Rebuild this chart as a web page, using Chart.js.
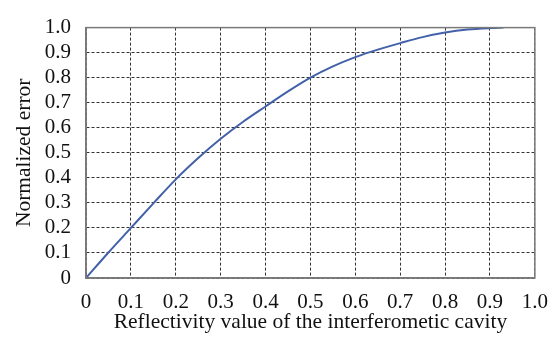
<!DOCTYPE html>
<html>
<head>
<meta charset="utf-8">
<script src="https://cdn.jsdelivr.net/npm/chart.js@4"></script>
<style>
  html, body { margin: 0; padding: 0; background: #fff; }
</style>
</head>
<body>
<canvas id="chart" width="560" height="337"></canvas>
<script>
// values
const reflectivity = [0, 0.05, 0.1, 0.15, 0.2, 0.25, 0.3, 0.35, 0.4, 0.45, 0.5,
    0.55, 0.6, 0.65, 0.7, 0.75, 0.8, 0.85, 0.9, 0.93];
const normalizedError = [0, 0.102, 0.2, 0.298, 0.394, 0.479, 0.556, 0.624, 0.685, 0.745, 0.8,
    0.845, 0.882, 0.912, 0.938, 0.962, 0.98, 0.992, 0.998, 1.0];
const axisMin = 0;
const axisMax = 1.0;
const axisStep = 0.1;

const serif = '"Liberation Serif", "Times New Roman", serif';

function tickLabel(v) {
    return Math.abs(v) < 1e-9 ? '0' : v.toFixed(1);
}

// frame round the plot area (top and right sides included)
const frame = {
    id: 'frame',
    afterDraw(chart) {
        const a = chart.chartArea;
        const ctx = chart.ctx;
        ctx.save();
        ctx.strokeStyle = '#7a7a7a';
        ctx.lineWidth = 1.5;
        ctx.strokeRect(a.left, a.top, a.right - a.left, a.bottom - a.top);
        ctx.restore();
    }
};

const points = reflectivity.map((x, i) => ({ x: x, y: normalizedError[i] }));

new Chart(document.getElementById('chart'), {
    type: 'line',
    data: {
        datasets: [{
            label: 'Normalized error',
            data: points,
            borderColor: '#4361a9',
            borderWidth: 2,
            pointRadius: 0,
            fill: false,
            cubicInterpolationMode: 'monotone'
        }]
    },
    options: {
        responsive: false,
        animation: false,
        layout: { padding: { top: 18, right: 23, left: 0, bottom: 0 } },
        plugins: {
            legend: { display: false },
            tooltip: { enabled: false }
        },
        scales: {
            x: {
                type: 'linear',
                min: axisMin,
                max: axisMax,
                afterFit: s => { s.height = 59; },
                ticks: {
                    stepSize: axisStep,
                    autoSkip: false,
                    padding: 12,
                    color: '#111',
                    font: { family: serif, size: 21 },
                    callback: tickLabel,
                    maxRotation: 0
                },
                grid: { color: '#333', lineWidth: 1, drawTicks: false },
                border: { color: '#7a7a7a', width: 1.5, dash: [3, 2] },
                title: {
                    display: true,
                    text: 'Reflectivity value of the interferometic cavity',
                    color: '#111',
                    font: { family: serif, size: 21.5 },
                    padding: { top: 0, bottom: 2 }
                }
            },
            y: {
                min: axisMin,
                max: axisMax,
                afterFit: s => { s.width = 86; },
                ticks: {
                    stepSize: axisStep,
                    autoSkip: false,
                    padding: 15,
                    color: '#111',
                    font: { family: serif, size: 21 },
                    callback: tickLabel
                },
                grid: { color: '#333', lineWidth: 1, drawTicks: false },
                border: { color: '#7a7a7a', width: 1.5, dash: [3, 2] },
                title: {
                    display: true,
                    text: 'Normalized error',
                    color: '#111',
                    font: { family: serif, size: 21.5 },
                    padding: { top: 11, bottom: 0 }
                }
            }
        }
    },
    plugins: [frame]
});
</script>
</body>
</html>
